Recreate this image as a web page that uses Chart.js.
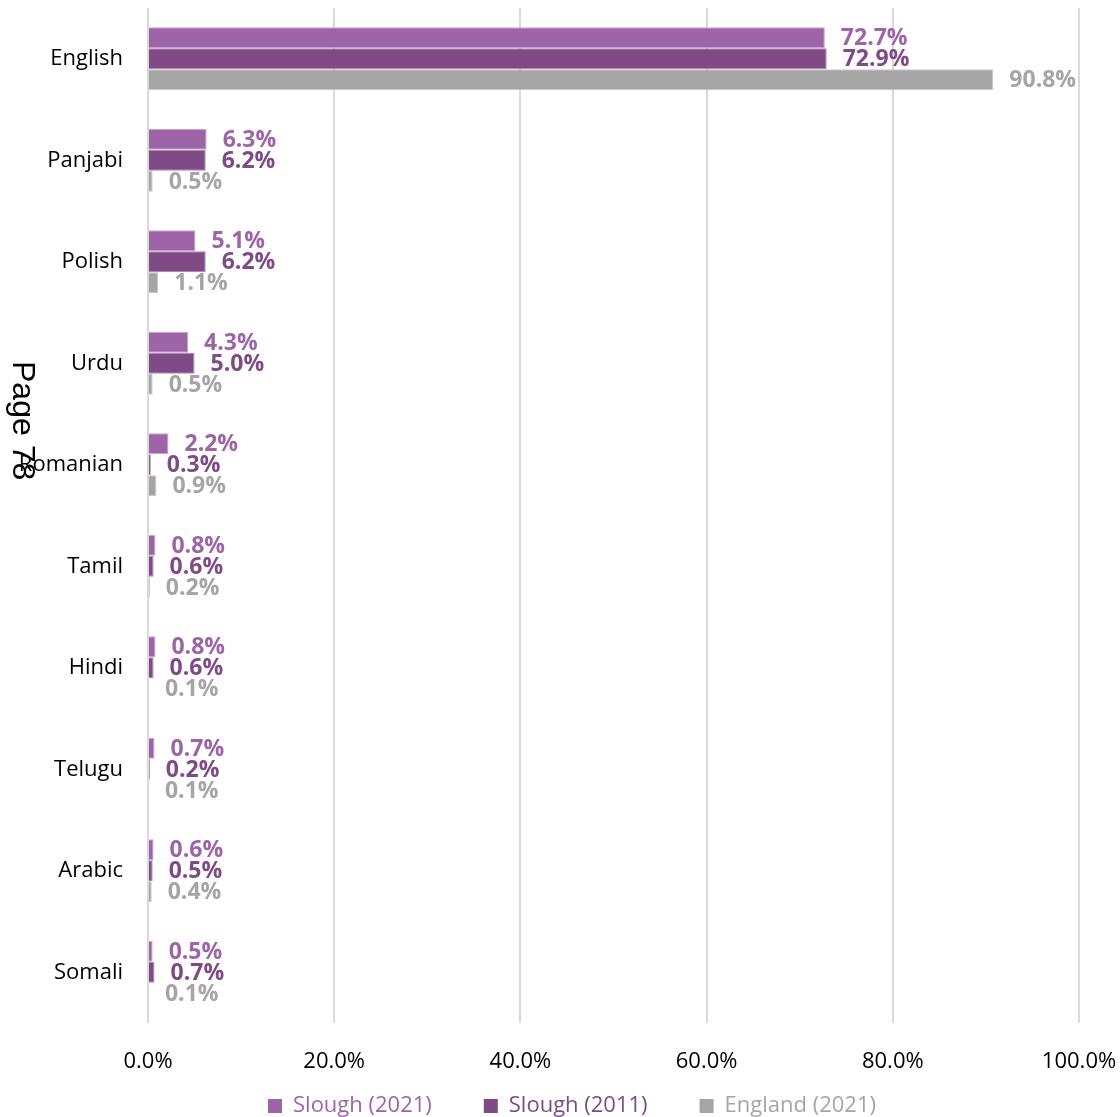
<!DOCTYPE html>
<html>
<head>
<meta charset="utf-8">
<script src="https://cdn.jsdelivr.net/npm/chart.js@4/dist/chart.umd.min.js"></script>
<style>
  html, body { margin: 0; padding: 0; background: #fff; }
  #wrap { position: relative; width: 1120px; height: 1117px; overflow: hidden; }
  #pageNote {
    position: absolute; left: 5px; top: 361px;
    writing-mode: vertical-rl;
    font-family: "Liberation Sans", Arial, sans-serif;
    font-size: 32px; color: #000;
  }
</style>
</head>
<body>
<div id="wrap">
  <canvas id="js-barChart" width="1120" height="1117"></canvas>
  <div id="pageNote">Page 78</div>
</div>
<script>
const languages = ['English', 'Panjabi', 'Polish', 'Urdu', 'Romanian', 'Tamil', 'Hindi', 'Telugu', 'Arabic', 'Somali'];
const slough2021 = [72.7, 6.3, 5.1, 4.3, 2.2, 0.8, 0.8, 0.7, 0.6, 0.5];
const slough2011 = [72.9, 6.2, 6.2, 5.0, 0.3, 0.6, 0.6, 0.2, 0.5, 0.7];
const england2021 = [90.8, 0.5, 1.1, 0.5, 0.9, 0.2, 0.1, 0.1, 0.4, 0.1];
const xTicks = [0, 20, 40, 60, 80, 100];

const fontFamily = '"Open Sans", "Noto Sans", sans-serif';
const barChartElement = document.getElementById('js-barChart');

// draws the bold value next to the end of each bar
const valueLabels = {
    id: 'valueLabels',
    afterDatasetsDraw(chart) {
        const ctx = chart.ctx;
        ctx.save();
        ctx.font = 'bold 23px ' + fontFamily;
        ctx.textAlign = 'left';
        ctx.textBaseline = 'middle';
        chart.data.datasets.forEach((dataset, i) => {
            const meta = chart.getDatasetMeta(i);
            ctx.fillStyle = dataset.labelColor;
            meta.data.forEach((bar, j) => {
                ctx.fillText(dataset.data[j].toFixed(1) + '%', bar.x + 16, bar.y + 1);
            });
        });
        ctx.restore();
    }
};

// axis labels are clipped to their boxes, so open the boxes up after layout
const openAxisBoxes = {
    id: 'openAxisBoxes',
    afterLayout(chart) {
        chart.scales.x.bottom = chart.height;
        chart.scales.y.left = 0;
    }
};

const chartConfig = {
    type: 'bar',
    data: {
        labels: languages,
        datasets: [{
            label: 'Slough (2021)',
            data: slough2021,
            backgroundColor: '#9e64a8',
            borderColor: '#c7a5cd',
            borderWidth: 1,
            labelColor: '#9e64a8'
        }, {
            label: 'Slough (2011)',
            data: slough2011,
            backgroundColor: '#7f4a86',
            borderColor: '#a985ad',
            borderWidth: 1,
            labelColor: '#7f4a86'
        }, {
            label: 'England (2021)',
            data: england2021,
            backgroundColor: '#a5a5a5',
            borderColor: '#c8c8c8',
            borderWidth: 1,
            labelColor: '#a5a5a5'
        }]
    },
    options: {
        indexAxis: 'y',
        responsive: false,
        animation: false,
        devicePixelRatio: 1,
        layout: {
            padding: { top: 8, right: 0, bottom: 0, left: 24 }
        },
        datasets: {
            bar: { categoryPercentage: 0.62, barPercentage: 1.0 }
        },
        scales: {
            x: {
                min: 0,
                max: 100,
                afterBuildTicks(axis) {
                    axis.ticks = xTicks.map(v => ({ value: v }));
                },
                afterFit(axis) {
                    // tick labels hang below into the legend band
                    axis.height = 20;
                    axis.paddingLeft = 0;
                    axis.paddingRight = 41;
                },
                ticks: {
                    callback: v => v.toFixed(1) + '%',
                    color: '#000',
                    padding: 26,
                    maxRotation: 0,
                    font: { family: fontFamily, size: 22 }
                },
                grid: { color: '#d9d9d9', lineWidth: 2, drawTicks: false },
                border: { display: false }
            },
            y: {
                afterFit(axis) {
                    axis.width = 124;
                    axis.paddingTop = 0;
                    axis.paddingBottom = 0;
                },
                ticks: {
                    color: '#000',
                    padding: 25,
                    font: { family: fontFamily, size: 22 }
                },
                grid: { display: false, drawTicks: false },
                border: { display: false }
            }
        },
        plugins: {
            legend: {
                position: 'bottom',
                maxHeight: 74,
                labels: {
                    boxWidth: 14,
                    boxHeight: 14,
                    padding: 52,
                    font: { family: fontFamily, size: 22 },
                    generateLabels(chart) {
                        return chart.data.datasets.map((ds, i) => ({
                            text: ds.label,
                            fillStyle: ds.backgroundColor,
                            strokeStyle: ds.backgroundColor,
                            lineWidth: 0,
                            fontColor: ds.labelColor,
                            hidden: false,
                            datasetIndex: i
                        }));
                    }
                }
            },
            tooltip: { enabled: false }
        }
    },
    plugins: [valueLabels, openAxisBoxes]
};

const barChart = new Chart(barChartElement, chartConfig);
</script>
</body>
</html>
